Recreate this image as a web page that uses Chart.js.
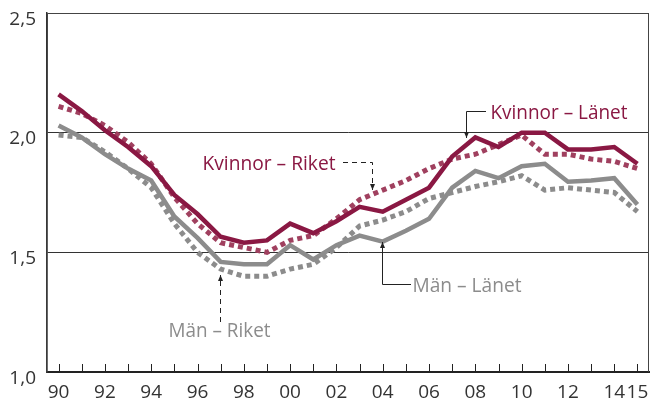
<!DOCTYPE html>
<html>
<head>
<meta charset="utf-8">
<script src="https://cdn.jsdelivr.net/npm/chart.js@4/dist/chart.umd.min.js"></script>
<style>
  body { margin: 0; background: #fff; }
</style>
</head>
<body>
<canvas id="myChart" width="650" height="400"></canvas>
<script>
// Years 1990-2015, shown as two digits
const years = ['90', '91', '92', '93', '94', '95', '96', '97', '98', '99', '00', '01', '02',
               '03', '04', '05', '06', '07', '08', '09', '10', '11', '12', '13', '14', '15'];

const kvinnorLanet = [2.16, 2.09, 2.01, 1.94, 1.86, 1.74, 1.66, 1.565, 1.54, 1.55, 1.62, 1.58, 1.63,
                      1.69, 1.67, 1.72, 1.77, 1.90, 1.98, 1.94, 2.00, 2.00, 1.93, 1.93, 1.94, 1.87];
const kvinnorRiket = [2.11, 2.08, 2.03, 1.96, 1.87, 1.73, 1.62, 1.54, 1.52, 1.50, 1.55, 1.57, 1.64,
                      1.72, 1.76, 1.80, 1.85, 1.89, 1.91, 1.95, 1.99, 1.91, 1.91, 1.89, 1.88, 1.85];
const manLanet = [2.03, 1.98, 1.91, 1.85, 1.80, 1.65, 1.56, 1.46, 1.45, 1.45, 1.53, 1.47, 1.53,
                  1.57, 1.545, 1.59, 1.64, 1.77, 1.84, 1.81, 1.86, 1.87, 1.795, 1.80, 1.81, 1.70];
const manRiket = [1.99, 1.98, 1.92, 1.85, 1.77, 1.62, 1.50, 1.43, 1.40, 1.40, 1.43, 1.45, 1.52,
                  1.61, 1.635, 1.67, 1.725, 1.75, 1.775, 1.795, 1.82, 1.76, 1.77, 1.76, 1.75, 1.67];

const yTicks = [1.0, 1.5, 2.0, 2.5];
const yTickLabels = ['1,0', '1,5', '2,0', '2,5'];

const RED = '#8a1843';
const RED_LIGHT = '#a0405f';
const GREY = '#8c8c8c';
const FONT = '"Open Sans", "DejaVu Sans", sans-serif';

// Frame, inward ticks and y labels
const framePlugin = {
    id: 'frame',
    beforeDatasetsDraw(chart) {
        const ctx = chart.ctx;
        const a = chart.chartArea;
        const x = chart.scales.x;
        const y = chart.scales.y;
        ctx.save();
        ctx.strokeStyle = '#444';
        ctx.lineWidth = 1;
        ctx.beginPath();
        ctx.moveTo(a.left, a.bottom);
        ctx.lineTo(a.left + 0.5, a.top + 0.5);
        ctx.lineTo(a.right - 0.5, a.top + 0.5);
        ctx.lineTo(a.right - 0.5, a.bottom);
        ctx.stroke();
        // little ticks pointing up from the bottom axis
        ctx.strokeStyle = '#222';
        ctx.beginPath();
        years.forEach((_, i) => {
            const px = Math.round(x.getPixelForValue(i)) + 0.5;
            ctx.moveTo(px, a.bottom);
            ctx.lineTo(px, a.bottom - 8);
        });
        ctx.stroke();
        // y labels
        ctx.fillStyle = '#333';
        ctx.font = '19px ' + FONT;
        ctx.textAlign = 'right';
        ctx.textBaseline = 'alphabetic';
        yTicks.forEach((v, i) => {
            ctx.fillText(yTickLabels[i], 36, y.getPixelForValue(v) + 11.5);
        });
        ctx.restore();
    }
};

function arrow(ctx, pts, dashed, up) {
    ctx.save();
    ctx.strokeStyle = '#222';
    ctx.fillStyle = '#222';
    ctx.lineWidth = 1;
    ctx.setLineDash(dashed ? [5, 4] : []);
    ctx.beginPath();
    ctx.moveTo(pts[0][0], pts[0][1]);
    for (let i = 1; i < pts.length; i++) ctx.lineTo(pts[i][0], pts[i][1]);
    ctx.stroke();
    ctx.setLineDash([]);
    const tip = pts[pts.length - 1];
    const d = up ? 1 : -1;
    ctx.beginPath();
    ctx.moveTo(tip[0], tip[1]);
    ctx.lineTo(tip[0] - 2.5, tip[1] + d * 6);
    ctx.lineTo(tip[0] + 2.5, tip[1] + d * 6);
    ctx.closePath();
    ctx.fill();
    ctx.restore();
}

// Series labels with their pointer lines
const labelPlugin = {
    id: 'labels',
    afterDatasetsDraw(chart) {
        const ctx = chart.ctx;
        ctx.save();
        ctx.font = '20px ' + FONT;
        ctx.textAlign = 'left';
        ctx.textBaseline = 'alphabetic';
        ctx.fillStyle = RED;
        ctx.fillText('Kvinnor – Länet', 490.5, 119, 137);
        ctx.fillText('Kvinnor – Riket', 202.5, 169.5, 133);
        ctx.fillStyle = GREY;
        ctx.fillText('Män – Länet', 412.5, 291.5, 109);
        ctx.fillText('Män – Riket', 168.5, 336.5, 102);
        ctx.restore();

        arrow(ctx, [[486, 111.5], [466.5, 111.5], [466.5, 138]], false, false);
        arrow(ctx, [[343, 162.5], [372.5, 162.5], [372.5, 190]], true, false);
        arrow(ctx, [[411, 284.5], [382.5, 284.5], [382.5, 242]], false, true);
        arrow(ctx, [[220.5, 322], [220.5, 275]], true, true);
    }
};

const ctx = document.getElementById('myChart').getContext('2d');
const myChart = new Chart(ctx, {
    type: 'line',
    data: {
        labels: years,
        datasets: [{
            label: 'Kvinnor – Länet',
            data: kvinnorLanet,
            borderColor: RED,
            borderWidth: 4.5
        }, {
            label: 'Män – Länet',
            data: manLanet,
            borderColor: GREY,
            borderWidth: 4.5
        }, {
            label: 'Kvinnor – Riket',
            data: kvinnorRiket,
            borderColor: RED_LIGHT,
            borderWidth: 5,
            borderDash: [5, 4]
        }, {
            label: 'Män – Riket',
            data: manRiket,
            borderColor: GREY,
            borderWidth: 5,
            borderDash: [5, 4]
        }]
    },
    options: {
        responsive: false,
        animation: false,
        devicePixelRatio: 1,
        layout: { padding: { top: 13, right: 1, left: 0, bottom: 0 } },
        elements: {
            point: { radius: 0 },
            line: { tension: 0, fill: false, borderJoinStyle: 'miter' }
        },
        plugins: {
            legend: { display: false },
            tooltip: { enabled: false }
        },
        scales: {
            x: {
                offset: true,
                grid: { display: false },
                border: { display: true, color: '#222', width: 2 },
                ticks: {
                    autoSkip: false,
                    maxRotation: 0,
                    padding: 1,
                    color: '#333',
                    font: { family: FONT, size: 19 },
                    callback: (v, i) => (i % 2 === 0 || i === years.length - 1) ? years[i] : ''
                },
                afterFit: s => { s.height = 28; }
            },
            y: {
                min: 1.0,
                max: 2.5,
                afterBuildTicks: s => { s.ticks = yTicks.map(v => ({ value: v })); },
                grid: { color: '#333', lineWidth: 1, drawTicks: false },
                border: { display: true, color: '#333', width: 1.5 },
                ticks: { display: false },
                afterFit: s => { s.width = 47; }
            }
        }
    },
    plugins: [framePlugin, labelPlugin]
});
</script>
</body>
</html>
